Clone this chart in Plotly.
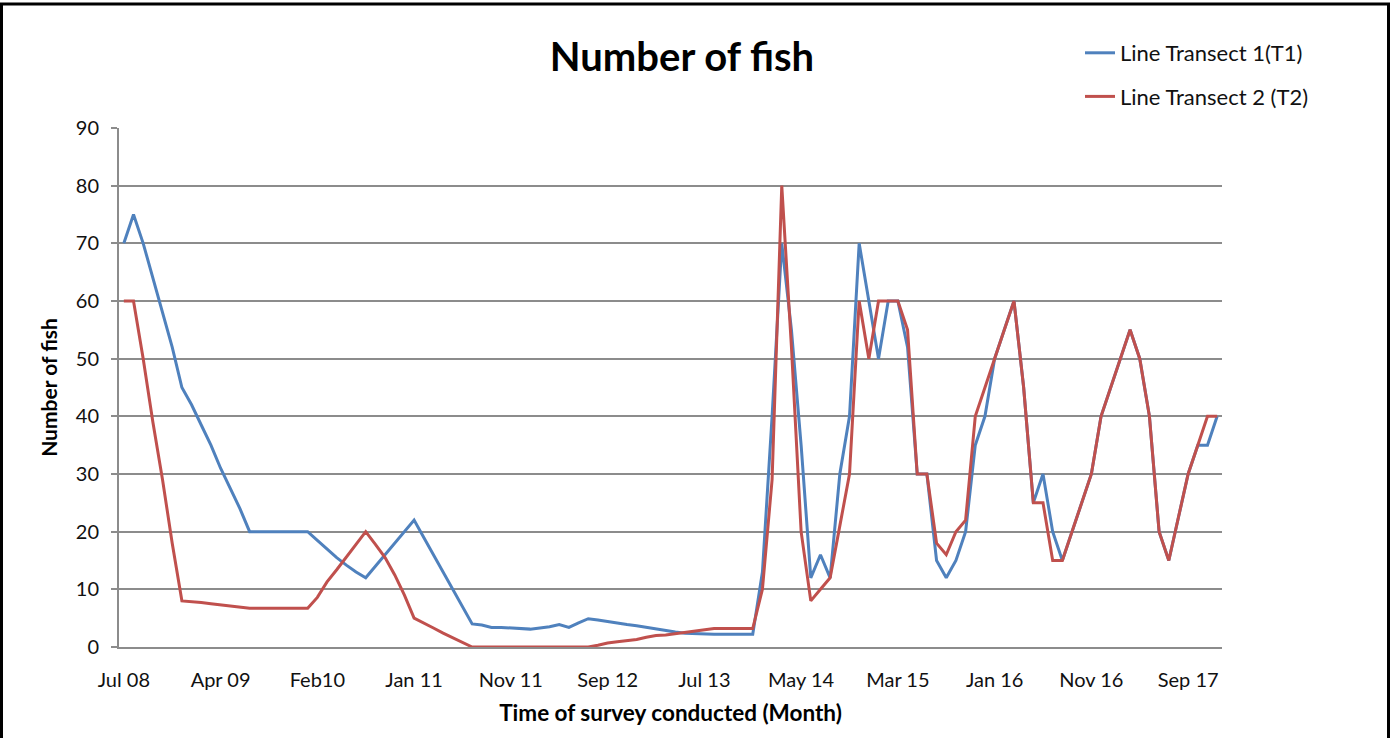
import plotly.graph_objects as go

# Survey sequence (one entry per survey month) and axis labels
tick_labels = ["Jul 08", "Apr 09", "Feb10", "Jan 11", "Nov 11", "Sep 12",
               "Jul 13", "May 14", "Mar 15", "Jan 16", "Nov 16", "Sep 17"]
label_step = 10

# Number of fish counted on Line Transect 1 (T1)
t1_counts = [
    70, 75, 70, 64, 58, 52, 45, 42, 38.5, 35,
    31, 27.5, 24, 20, 20, 20, 20, 20, 20, 20,
    18.5, 17, 15.5, 14.2, 13, 12, 14, 16, 18, 20,
    22, 19, 16, 13, 10, 7, 4, 3.8, 3.4, 3.4,
    3.3, 3.1, 3.1, 3.3, 3.5, 3.9, 3.4, 4.2, 4.9, 4.7,
    4.4, 4.1, 3.9, 3.7, 3.4, 3.1, 2.9, 2.6, 2.4, 2.3,
    2.2, 2.2, 2.2, 2.2, 2.2, 2.2, 13, 40, 70, 55,
    35, 12, 16, 12, 30, 40, 70, 60, 50, 60,
    60, 52, 30, 30, 15, 12, 15, 20, 35, 40,
    50, 55, 60, 45, 25, 30, 20, 15, 20, 25,
    30, 40, 45, 50, 55, 50, 40, 20, 15, 22.5,
    30, 35, 35, 40,
]

# Number of fish counted on Line Transect 2 (T2)
t2_counts = [
    60, 60, 50, 39, 29, 18, 8, 7.9, 7.7, 7.5,
    7.3, 7.0, 6.8, 6.7, 6.7, 6.7, 6.7, 6.7, 6.7, 6.7,
    8.6, 11.3, 13.4, 15.6, 17.8, 20, 17.8, 15.5, 12.5, 9,
    5, 4.2, 3.3, 2.4, 1.6, 0.8, 0, 0, 0, 0,
    0, 0, 0, 0, 0, 0, 0, 0, 0, 0.3,
    0.7, 0.9, 1.1, 1.3, 1.7, 2.0, 2.1, 2.3, 2.5, 2.7,
    3.0, 3.2, 3.2, 3.2, 3.2, 3.2, 10, 29, 80, 52,
    20, 8, 10, 12, 21, 30, 60, 50, 60, 60,
    60, 55, 30, 30, 18, 16, 20, 22, 40, 45,
    50, 55, 60, 45, 25, 25, 15, 15, 20, 25,
    30, 40, 45, 50, 55, 50, 40, 20, 15, 22.5,
    30, 35, 40, 40,
]

survey_idx = list(range(len(t1_counts)))
tick_pos = list(range(0, len(t1_counts), label_step))[:len(tick_labels)]

FONT = "Lato"
TEXT = "#111111"
GRID = "#8c8c8c"

W, H = 1394, 738
ML, MR, MT, MB = 119, 172, 128, 91
PW, PH = W - ML - MR, H - MT - MB


def px_x(p):
    return (p - ML) / PW


def px_y(p):
    return (H - MB - p) / PH


fig = go.Figure()
fig.add_trace(go.Scatter(
    x=survey_idx, y=t1_counts, mode="lines", name="Line Transect 1(T1)",
    line=dict(color="#4F81BD", width=3), legendgroup="t1",
))
fig.add_trace(go.Scatter(
    x=survey_idx, y=t2_counts, mode="lines", name="Line Transect 2 (T2)",
    line=dict(color="#C0504D", width=3), legendgroup="t2",
))

fig.update_layout(
    width=W, height=H,
    margin=dict(l=ML, r=MR, t=MT, b=MB),
    paper_bgcolor="white", plot_bgcolor="white",
    font=dict(family=FONT, color=TEXT),
    title=dict(
        text="<b>Number of fish</b>", font=dict(family=FONT, size=40, color="#000000"),
        x=682 / W, xref="container", xanchor="center",
        y=1 - 57 / H, yref="container", yanchor="middle",
    ),
    legend=dict(
        x=px_x(1080), y=px_y(32), xanchor="left", yanchor="top",
        font=dict(family=FONT, size=22, color=TEXT),
        tracegroupgap=12, bgcolor="rgba(0,0,0,0)",
    ),
    showlegend=True,
    xaxis=dict(
        range=[-0.5, len(t1_counts) - 0.5],
        tickmode="array", tickvals=tick_pos, ticktext=tick_labels,
        tickfont=dict(family=FONT, size=20, color=TEXT),
        showgrid=False, zeroline=False,
        showline=True, linecolor=GRID, linewidth=2,
        ticks="", ticklabelstandoff=14,
        title=dict(text="<b>Time of survey conducted (Month)</b>",
                   font=dict(family=FONT, size=22.5, color="#000000"), standoff=15),
        fixedrange=True,
    ),
    yaxis=dict(
        range=[0, 90], tickmode="linear", tick0=0, dtick=10,
        tickfont=dict(family=FONT, size=20, color=TEXT),
        showgrid=True, gridcolor=GRID, gridwidth=2,
        zeroline=False, showline=True, linecolor=GRID, linewidth=2,
        ticks="outside", ticklen=6, tickcolor=GRID, tickwidth=2,
        ticklabelstandoff=8,
        title=dict(text="<b>Number of fish</b>",
                   font=dict(family=FONT, size=21, color="#000000"), standoff=12),
        fixedrange=True,
    ),
    shapes=[dict(
        type="rect", xref="paper", yref="paper",
        x0=px_x(1.5), x1=px_x(1388.5), y0=px_y(760), y1=px_y(4),
        line=dict(color="black", width=3), fillcolor="rgba(0,0,0,0)", layer="above",
    )],
)

fig.write_html("out.html", config={"displayModeBar": False})
